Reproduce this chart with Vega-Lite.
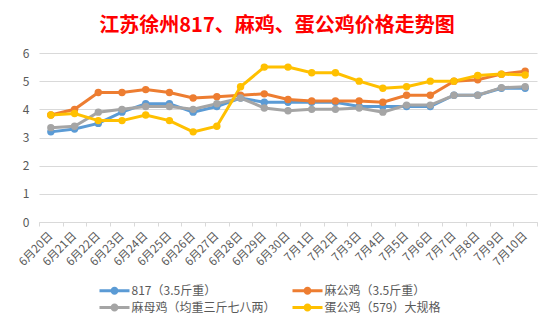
{
  "$schema": "https://vega.github.io/schema/vega-lite/v6.json",
  "width": 498,
  "height": 169,
  "autosize": {"type": "none"},
  "padding": {"left": 39, "top": 53, "right": 17, "bottom": 110},
  "background": "white",
  "title": {
    "text": "江苏徐州817、麻鸡、蛋公鸡价格走势图",
    "color": "#FF0000",
    "font": "Noto Sans CJK SC",
    "fontSize": 20,
    "fontWeight": "bold",
    "anchor": "middle",
    "dx": -11,
    "offset": 11
  },
  "config": {
    "view": {"stroke": null},
    "font": "Noto Sans CJK SC"
  },
  "data": {
    "values": [
      {"date": "6月20日", "series": "817（3.5斤重）", "price": 3.2},
      {"date": "6月21日", "series": "817（3.5斤重）", "price": 3.3},
      {"date": "6月22日", "series": "817（3.5斤重）", "price": 3.5},
      {"date": "6月23日", "series": "817（3.5斤重）", "price": 3.9},
      {"date": "6月24日", "series": "817（3.5斤重）", "price": 4.2},
      {"date": "6月25日", "series": "817（3.5斤重）", "price": 4.2},
      {"date": "6月26日", "series": "817（3.5斤重）", "price": 3.9},
      {"date": "6月27日", "series": "817（3.5斤重）", "price": 4.1},
      {"date": "6月28日", "series": "817（3.5斤重）", "price": 4.4},
      {"date": "6月29日", "series": "817（3.5斤重）", "price": 4.25},
      {"date": "6月30日", "series": "817（3.5斤重）", "price": 4.25},
      {"date": "7月1日", "series": "817（3.5斤重）", "price": 4.25},
      {"date": "7月2日", "series": "817（3.5斤重）", "price": 4.25},
      {"date": "7月3日", "series": "817（3.5斤重）", "price": 4.1},
      {"date": "7月4日", "series": "817（3.5斤重）", "price": 4.1},
      {"date": "7月5日", "series": "817（3.5斤重）", "price": 4.1},
      {"date": "7月6日", "series": "817（3.5斤重）", "price": 4.1},
      {"date": "7月7日", "series": "817（3.5斤重）", "price": 4.5},
      {"date": "7月8日", "series": "817（3.5斤重）", "price": 4.5},
      {"date": "7月9日", "series": "817（3.5斤重）", "price": 4.75},
      {"date": "7月10日", "series": "817（3.5斤重）", "price": 4.75},
      {"date": "6月20日", "series": "麻公鸡（3.5斤重）", "price": 3.8},
      {"date": "6月21日", "series": "麻公鸡（3.5斤重）", "price": 4.0},
      {"date": "6月22日", "series": "麻公鸡（3.5斤重）", "price": 4.6},
      {"date": "6月23日", "series": "麻公鸡（3.5斤重）", "price": 4.6},
      {"date": "6月24日", "series": "麻公鸡（3.5斤重）", "price": 4.7},
      {"date": "6月25日", "series": "麻公鸡（3.5斤重）", "price": 4.6},
      {"date": "6月26日", "series": "麻公鸡（3.5斤重）", "price": 4.4},
      {"date": "6月27日", "series": "麻公鸡（3.5斤重）", "price": 4.45},
      {"date": "6月28日", "series": "麻公鸡（3.5斤重）", "price": 4.5},
      {"date": "6月29日", "series": "麻公鸡（3.5斤重）", "price": 4.55},
      {"date": "6月30日", "series": "麻公鸡（3.5斤重）", "price": 4.35},
      {"date": "7月1日", "series": "麻公鸡（3.5斤重）", "price": 4.3},
      {"date": "7月2日", "series": "麻公鸡（3.5斤重）", "price": 4.3},
      {"date": "7月3日", "series": "麻公鸡（3.5斤重）", "price": 4.3},
      {"date": "7月4日", "series": "麻公鸡（3.5斤重）", "price": 4.25},
      {"date": "7月5日", "series": "麻公鸡（3.5斤重）", "price": 4.5},
      {"date": "7月6日", "series": "麻公鸡（3.5斤重）", "price": 4.5},
      {"date": "7月7日", "series": "麻公鸡（3.5斤重）", "price": 5.0},
      {"date": "7月8日", "series": "麻公鸡（3.5斤重）", "price": 5.05},
      {"date": "7月9日", "series": "麻公鸡（3.5斤重）", "price": 5.25},
      {"date": "7月10日", "series": "麻公鸡（3.5斤重）", "price": 5.35},
      {"date": "6月20日", "series": "麻母鸡（均重三斤七八两）", "price": 3.35},
      {"date": "6月21日", "series": "麻母鸡（均重三斤七八两）", "price": 3.4},
      {"date": "6月22日", "series": "麻母鸡（均重三斤七八两）", "price": 3.9},
      {"date": "6月23日", "series": "麻母鸡（均重三斤七八两）", "price": 4.0},
      {"date": "6月24日", "series": "麻母鸡（均重三斤七八两）", "price": 4.1},
      {"date": "6月25日", "series": "麻母鸡（均重三斤七八两）", "price": 4.1},
      {"date": "6月26日", "series": "麻母鸡（均重三斤七八两）", "price": 4.0},
      {"date": "6月27日", "series": "麻母鸡（均重三斤七八两）", "price": 4.2},
      {"date": "6月28日", "series": "麻母鸡（均重三斤七八两）", "price": 4.4},
      {"date": "6月29日", "series": "麻母鸡（均重三斤七八两）", "price": 4.05},
      {"date": "6月30日", "series": "麻母鸡（均重三斤七八两）", "price": 3.95},
      {"date": "7月1日", "series": "麻母鸡（均重三斤七八两）", "price": 4.0},
      {"date": "7月2日", "series": "麻母鸡（均重三斤七八两）", "price": 4.0},
      {"date": "7月3日", "series": "麻母鸡（均重三斤七八两）", "price": 4.05},
      {"date": "7月4日", "series": "麻母鸡（均重三斤七八两）", "price": 3.9},
      {"date": "7月5日", "series": "麻母鸡（均重三斤七八两）", "price": 4.15},
      {"date": "7月6日", "series": "麻母鸡（均重三斤七八两）", "price": 4.15},
      {"date": "7月7日", "series": "麻母鸡（均重三斤七八两）", "price": 4.5},
      {"date": "7月8日", "series": "麻母鸡（均重三斤七八两）", "price": 4.5},
      {"date": "7月9日", "series": "麻母鸡（均重三斤七八两）", "price": 4.77},
      {"date": "7月10日", "series": "麻母鸡（均重三斤七八两）", "price": 4.8},
      {"date": "6月20日", "series": "蛋公鸡（579）大规格", "price": 3.8},
      {"date": "6月21日", "series": "蛋公鸡（579）大规格", "price": 3.85},
      {"date": "6月22日", "series": "蛋公鸡（579）大规格", "price": 3.6},
      {"date": "6月23日", "series": "蛋公鸡（579）大规格", "price": 3.6},
      {"date": "6月24日", "series": "蛋公鸡（579）大规格", "price": 3.8},
      {"date": "6月25日", "series": "蛋公鸡（579）大规格", "price": 3.6},
      {"date": "6月26日", "series": "蛋公鸡（579）大规格", "price": 3.2},
      {"date": "6月27日", "series": "蛋公鸡（579）大规格", "price": 3.4},
      {"date": "6月28日", "series": "蛋公鸡（579）大规格", "price": 4.8},
      {"date": "6月29日", "series": "蛋公鸡（579）大规格", "price": 5.5},
      {"date": "6月30日", "series": "蛋公鸡（579）大规格", "price": 5.5},
      {"date": "7月1日", "series": "蛋公鸡（579）大规格", "price": 5.3},
      {"date": "7月2日", "series": "蛋公鸡（579）大规格", "price": 5.3},
      {"date": "7月3日", "series": "蛋公鸡（579）大规格", "price": 5.0},
      {"date": "7月4日", "series": "蛋公鸡（579）大规格", "price": 4.75},
      {"date": "7月5日", "series": "蛋公鸡（579）大规格", "price": 4.8},
      {"date": "7月6日", "series": "蛋公鸡（579）大规格", "price": 5.0},
      {"date": "7月7日", "series": "蛋公鸡（579）大规格", "price": 5.0},
      {"date": "7月8日", "series": "蛋公鸡（579）大规格", "price": 5.2},
      {"date": "7月9日", "series": "蛋公鸡（579）大规格", "price": 5.25},
      {"date": "7月10日", "series": "蛋公鸡（579）大规格", "price": 5.22}
    ]
  },
  "encoding": {
    "x": {
      "field": "date",
      "type": "ordinal",
      "sort": null,
      "bandPosition": 0.5,
      "scale": {"type": "band", "paddingInner": 0, "paddingOuter": 0},
      "axis": {
        "title": null,
        "tickBand": "extent",
        "labelAngle": -45,
        "labelAlign": "right",
        "labelBaseline": "middle",
        "labelFontSize": 11.5,
        "labelColor": "#595959",
        "labelPadding": 8,
        "domainColor": "#D9D9D9",
        "tickColor": "#D9D9D9",
        "tickSize": 4,
        "grid": false
      }
    },
    "y": {
      "field": "price",
      "type": "quantitative",
      "scale": {"domain": [0, 6], "nice": false, "zero": true},
      "axis": {
        "title": null,
        "values": [0, 1, 2, 3, 4, 5, 6],
        "domain": false,
        "ticks": false,
        "labelFontSize": 12,
        "labelColor": "#595959",
        "labelPadding": 10,
        "gridColor": "#D9D9D9",
        "gridWidth": 1
      }
    },
    "color": {
      "field": "series",
      "type": "nominal",
      "scale": {
        "domain": ["817（3.5斤重）", "麻公鸡（3.5斤重）", "麻母鸡（均重三斤七八两）", "蛋公鸡（579）大规格"],
        "range": ["#5B9BD5", "#ED7D31", "#A5A5A5", "#FFC000"]
      },
      "legend": {
        "title": null,
        "orient": "none",
        "legendX": 67,
        "legendY": 229,
        "direction": "horizontal",
        "columns": 2,
        "columnPadding": 16,
        "rowPadding": 2,
        "labelFontSize": 12,
        "labelColor": "#595959",
        "labelOffset": 8.5,
        "symbolType": "M-1.8,-0.18H1.8V0.18H-1.8Z M0.48,0A0.48,0.48,0,1,1,-0.48,0A0.48,0.48,0,1,1,0.48,0Z",
        "symbolSize": 278,
        "symbolStrokeWidth": 0,
        "symbolOpacity": 1
      }
    }
  },
  "layer": [
    {
      "mark": {"type": "line", "strokeWidth": 3}
    },
    {
      "mark": {"type": "point", "filled": true, "size": 55, "opacity": 1}
    }
  ]
}
